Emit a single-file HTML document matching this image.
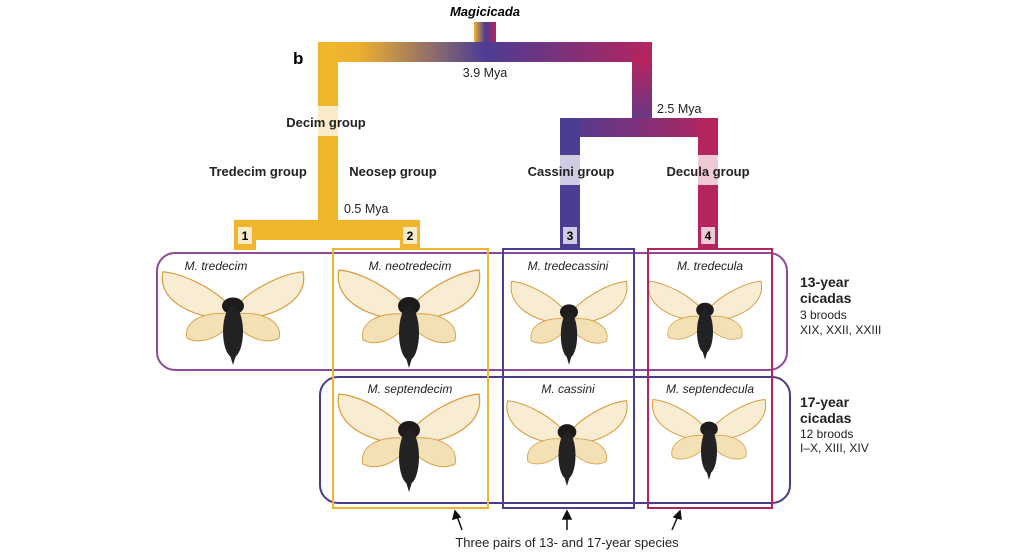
<!DOCTYPE html>
<html><head><meta charset="utf-8"><style>
html,body{margin:0;padding:0;background:#fff;}
svg{display:block;font-family:"Liberation Sans",sans-serif;}
</style></head><body>
<svg width="1024" height="559" viewBox="0 0 1024 559" xmlns="http://www.w3.org/2000/svg">
<defs>
<linearGradient id="gtop" x1="318" y1="0" x2="652" y2="0" gradientUnits="userSpaceOnUse">
<stop offset="0" stop-color="#f1b52d"/><stop offset="0.12" stop-color="#eeb02e"/><stop offset="0.5" stop-color="#4b3d94"/><stop offset="1" stop-color="#b5245d"/></linearGradient>
<linearGradient id="gstem" x1="474" y1="0" x2="496" y2="0" gradientUnits="userSpaceOnUse">
<stop offset="0" stop-color="#f1b52d"/><stop offset="0.5" stop-color="#4b3d94"/><stop offset="1" stop-color="#b5245d"/></linearGradient>
<linearGradient id="gright" x1="0" y1="60" x2="0" y2="130" gradientUnits="userSpaceOnUse">
<stop offset="0" stop-color="#b5245d"/><stop offset="1" stop-color="#5a3b8e"/></linearGradient>
<linearGradient id="gbar2" x1="560" y1="0" x2="718" y2="0" gradientUnits="userSpaceOnUse">
<stop offset="0" stop-color="#4b3d94"/><stop offset="1" stop-color="#b5245d"/></linearGradient>
<g id="cic">
<path d="M-2,2 C-15,-16 -48,-34 -70,-36 C-76,-8 -45,12 -4,14 Z" fill="#f8ecd2" stroke="#d99a3a" stroke-width="1.2"/>
<path d="M2,2 C15,-16 48,-34 70,-36 C76,-8 45,12 4,14 Z" fill="#f8ecd2" stroke="#d99a3a" stroke-width="1.2"/>
<path d="M-4,8 C-30,6 -50,16 -46,34 C-30,42 -10,30 -4,20 Z" fill="#f3e0b4" stroke="#d8a24a" stroke-width="1"/>
<path d="M4,8 C30,6 50,16 46,34 C30,42 10,30 4,20 Z" fill="#f3e0b4" stroke="#d8a24a" stroke-width="1"/>
<ellipse cx="0" cy="0" rx="11" ry="9" fill="#1d1b1c"/>
<ellipse cx="0" cy="27" rx="10" ry="27" fill="#222"/>
<path d="M-3,52 L0,62 L3,52 Z" fill="#222"/>
</g>
</defs>

<text x="485" y="16" font-size="13" font-weight="bold" font-style="italic" text-anchor="middle">Magicicada</text>
<rect x="474" y="22" width="22" height="22" fill="url(#gstem)"/>
<rect x="318" y="42" width="334" height="20" fill="url(#gtop)"/>
<rect x="318" y="42" width="20" height="198" fill="#f1b52d"/>
<rect x="632" y="55" width="20" height="70" fill="url(#gright)"/>
<rect x="560" y="118" width="158" height="19" fill="url(#gbar2)"/>
<rect x="560" y="118" width="20" height="130" fill="#4b3d94"/>
<rect x="698" y="118" width="20" height="130" fill="#b5245d"/>
<rect x="234" y="220" width="186" height="20" fill="#f1b52d"/>
<rect x="234" y="220" width="22" height="30" fill="#f1b52d"/>
<rect x="400" y="220" width="20" height="30" fill="#f1b52d"/>
<rect x="318" y="106" width="20" height="30" fill="#fbecc9"/>
<rect x="560" y="155" width="20" height="30" fill="#d0cbe2"/>
<rect x="698" y="155" width="20" height="30" fill="#efc9d6"/>
<rect x="238" y="227" width="14" height="17" fill="#fbecc9"/>
<rect x="403" y="227" width="14" height="17" fill="#fbecc9"/>
<rect x="563" y="227" width="14" height="17" fill="#d0cbe2"/>
<rect x="701" y="227" width="14" height="17" fill="#efc9d6"/>
<g font-size="12" font-weight="bold" text-anchor="middle">
<text x="245" y="240">1</text><text x="410" y="240">2</text><text x="570" y="240">3</text><text x="708" y="240">4</text>
</g>
<text x="293" y="64" font-size="17" font-weight="bold">b</text>
<g font-size="12.5" fill="#222">
<text x="485" y="77" text-anchor="middle">3.9 Mya</text>
<text x="657" y="113">2.5 Mya</text>
<text x="344" y="213">0.5 Mya</text>
</g>
<g font-size="13" font-weight="bold" fill="#222" text-anchor="middle">
<text x="326" y="127">Decim group</text>
<text x="258" y="176">Tredecim group</text>
<text x="393" y="176">Neosep group</text>
<text x="571" y="176">Cassini group</text>
<text x="708" y="176">Decula group</text>
</g>

<use href="#cic" transform="translate(233,306) scale(1.0,0.95)"/>
<use href="#cic" transform="translate(409,306) scale(1.0,1.0)"/>
<use href="#cic" transform="translate(569,312) scale(0.82,0.85)"/>
<use href="#cic" transform="translate(705,310) scale(0.8,0.8)"/>
<use href="#cic" transform="translate(409,430) scale(1.0,1.0)"/>
<use href="#cic" transform="translate(567,432) scale(0.85,0.87)"/>
<use href="#cic" transform="translate(709,429) scale(0.8,0.82)"/>

<rect x="157" y="253" width="630" height="117" rx="18" fill="none" stroke="#8b4a9a" stroke-width="2"/>
<rect x="320" y="377" width="470" height="126" rx="18" fill="none" stroke="#4b3a8c" stroke-width="2"/>
<rect x="333" y="249" width="155" height="259" fill="none" stroke="#f1b52d" stroke-width="2"/>
<rect x="503" y="249" width="131" height="259" fill="none" stroke="#4b3d94" stroke-width="2"/>
<rect x="648" y="249" width="124" height="259" fill="none" stroke="#b5245d" stroke-width="2"/>

<g font-size="12" font-style="italic" fill="#222" text-anchor="middle">
<text x="216" y="270">M. tredecim</text>
<text x="410" y="270">M. neotredecim</text>
<text x="568" y="270">M. tredecassini</text>
<text x="710" y="270">M. tredecula</text>
<text x="410" y="393">M. septendecim</text>
<text x="568" y="393">M. cassini</text>
<text x="710" y="393">M. septendecula</text>
</g>

<g fill="#222">
<text x="800" y="287" font-size="14" font-weight="bold">13-year</text>
<text x="800" y="303" font-size="14" font-weight="bold">cicadas</text>
<text x="800" y="319" font-size="12">3 broods</text>
<text x="800" y="334" font-size="12">XIX, XXII, XXIII</text>
<text x="800" y="407" font-size="14" font-weight="bold">17-year</text>
<text x="800" y="423" font-size="14" font-weight="bold">cicadas</text>
<text x="800" y="438" font-size="12">12 broods</text>
<text x="800" y="452" font-size="12">I–X, XIII, XIV</text>
</g>

<g stroke="#111" stroke-width="1.5" fill="#111">
<line x1="462" y1="530" x2="457" y2="516"/><path d="M455,511 L453,519 L460,517 Z"/>
<line x1="567" y1="530" x2="567" y2="516"/><path d="M567,511 L563,519 L571,519 Z"/>
<line x1="672" y1="530" x2="678" y2="516"/><path d="M680,511 L674,517 L681,519 Z"/>
</g>
<text x="567" y="547" font-size="13" text-anchor="middle" fill="#222">Three pairs of 13- and 17-year species</text>
</svg>
</body></html>
